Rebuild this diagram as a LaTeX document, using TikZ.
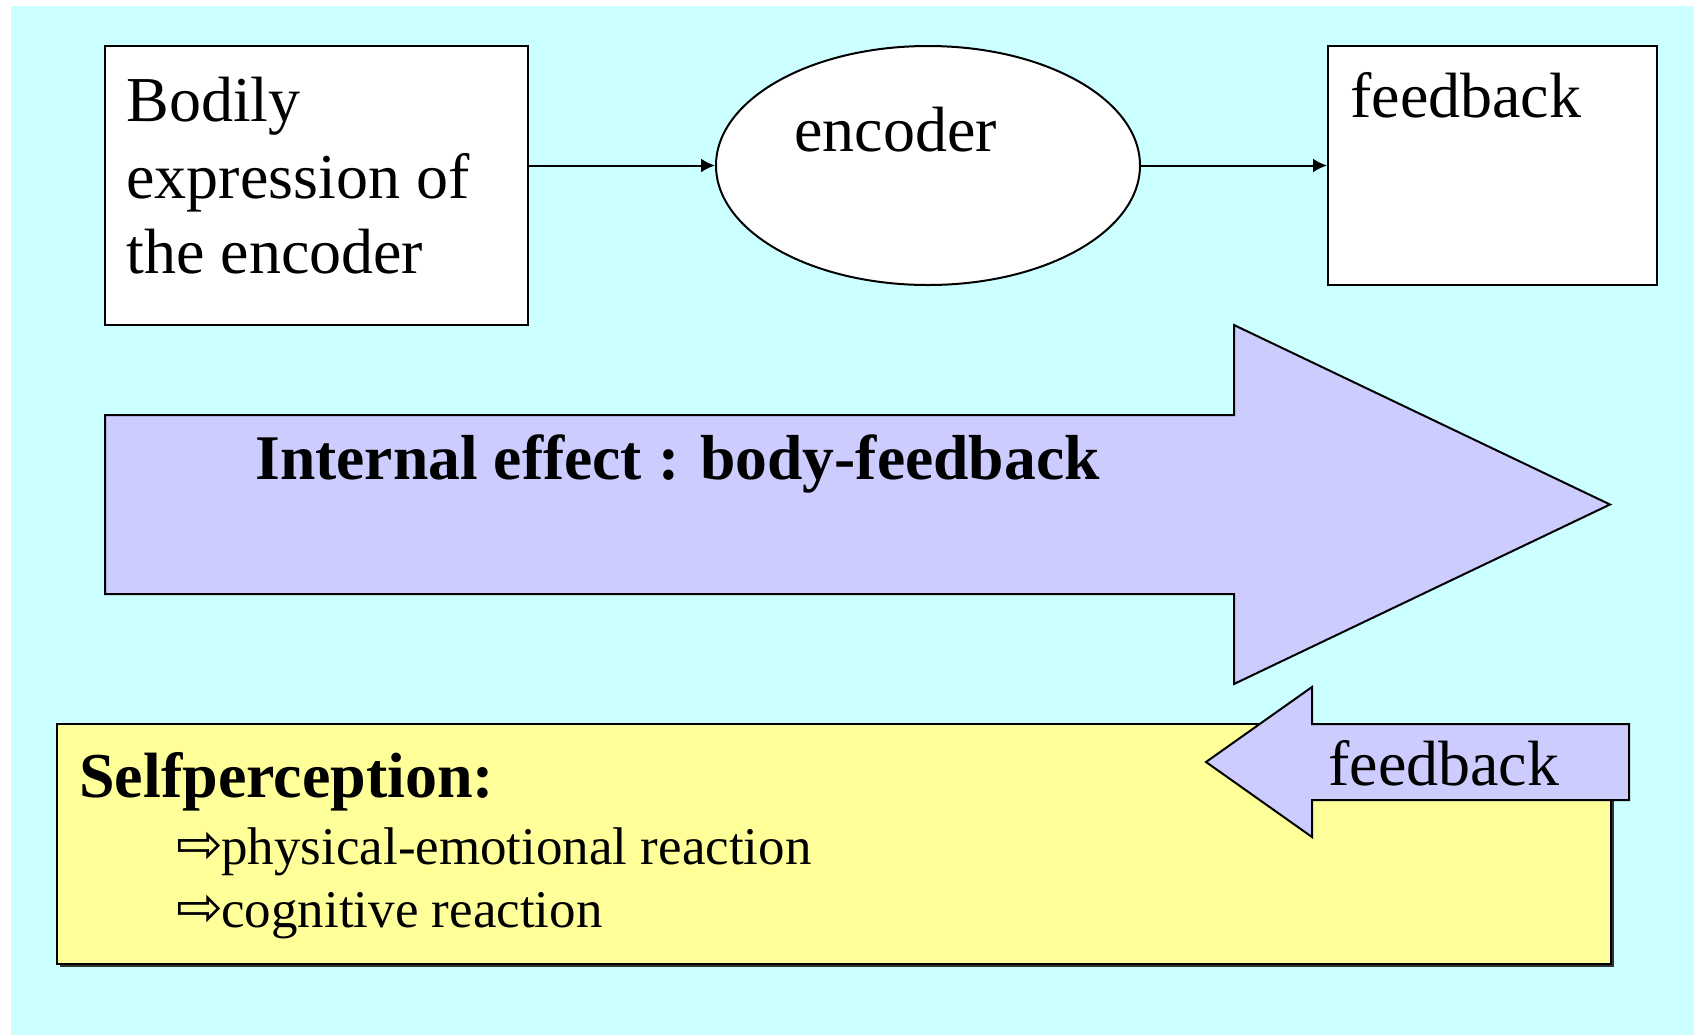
\documentclass[tikz,border=0pt]{standalone}
\usepackage{fontspec}
\setmainfont{Liberation Serif}
\newfontfamily\symfont{DejaVu Sans}
\usetikzlibrary{shapes.geometric,arrows.meta}
\definecolor{bgcyan}{HTML}{CCFFFF}
\definecolor{lav}{HTML}{CCCCFF}
\definecolor{yel}{HTML}{FFFF99}
\tikzset{
  boxstyle/.style={draw=black,line width=1pt,fill=white,rectangle,inner sep=0pt},
  txt/.style={anchor=base west,inner sep=0pt,font=\fontsize{32}{38}\selectfont},
  smalltxt/.style={anchor=base west,inner sep=0pt,font=\fontsize{26.5}{32}\selectfont},
  bullet/.style={anchor=base west,inner sep=0pt,font=\symfont\fontsize{28}{32}\selectfont},
  bigarrow/.style={draw=black,line width=1pt,fill=lav,line join=miter},
  conn/.style={line width=1pt,-{Latex[length=7pt,width=7pt]}}
}
\begin{document}
\begin{tikzpicture}[x=0.5pt,y=-0.5pt]
\useasboundingbox[fill=white] (0,0) rectangle (1694,1035);
\fill[bgcyan] (11,6) rectangle (1694,1035);
% top row
\node[boxstyle,minimum width=211.5pt,minimum height=139.5pt] (body) at (316.5,185.5) {};
\node[draw=black,line width=1pt,fill=white,ellipse,inner sep=0pt,minimum width=212pt,minimum height=119.5pt] (enc) at (928,165.5) {};
\node[boxstyle,minimum width=164.5pt,minimum height=119.5pt] (fb) at (1492.5,165.5) {};
\node[txt] (t1) at (126,121) {Bodily};
\node[txt] (t2) at (126,198) {expression of};
\node[txt] (t3) at (126,273) {the encoder};
\node[txt] (t4) at (794,151) {encoder};
\node[txt] (t5) at (1350,117) {feedback};
\draw[conn] (body.east |- enc.west) -- (enc.west);
\draw[conn] (enc.east) -- (fb.west);
% big arrow
\draw[bigarrow] (105,415) -- (1234,415) -- (1234,325) -- (1610,504.5) -- (1234,684) -- (1234,594) -- (105,594) -- cycle;
\node[txt,font=\fontsize{31.8}{38}\selectfont\bfseries] (t6) at (255,479) {Internal effect : body-feedback};
% yellow box
\fill[black!80] (60,727) rectangle (1614,967);
\node[draw=black,line width=1pt,fill=yel,rectangle,inner sep=0pt,minimum width=777pt,minimum height=120pt] (self) at (834,844) {};
\node[txt,font=\fontsize{32}{38}\selectfont\bfseries] (t7) at (79,797) {Selfperception:};
\node[bullet] (b1) at (176,863) {⇨};
\node[smalltxt] (t8) at (221,864) {physical-emotional reaction};
\node[bullet] (b2) at (176,926) {⇨};
\node[smalltxt] (t9) at (221,927) {cognitive reaction};
% feedback arrow
\draw[bigarrow] (1629,724) -- (1312,724) -- (1312,687) -- (1206,762) -- (1312,837) -- (1312,800) -- (1629,800) -- cycle;
\node[txt] (t10) at (1328,785) {feedback};
\end{tikzpicture}
\end{document}
